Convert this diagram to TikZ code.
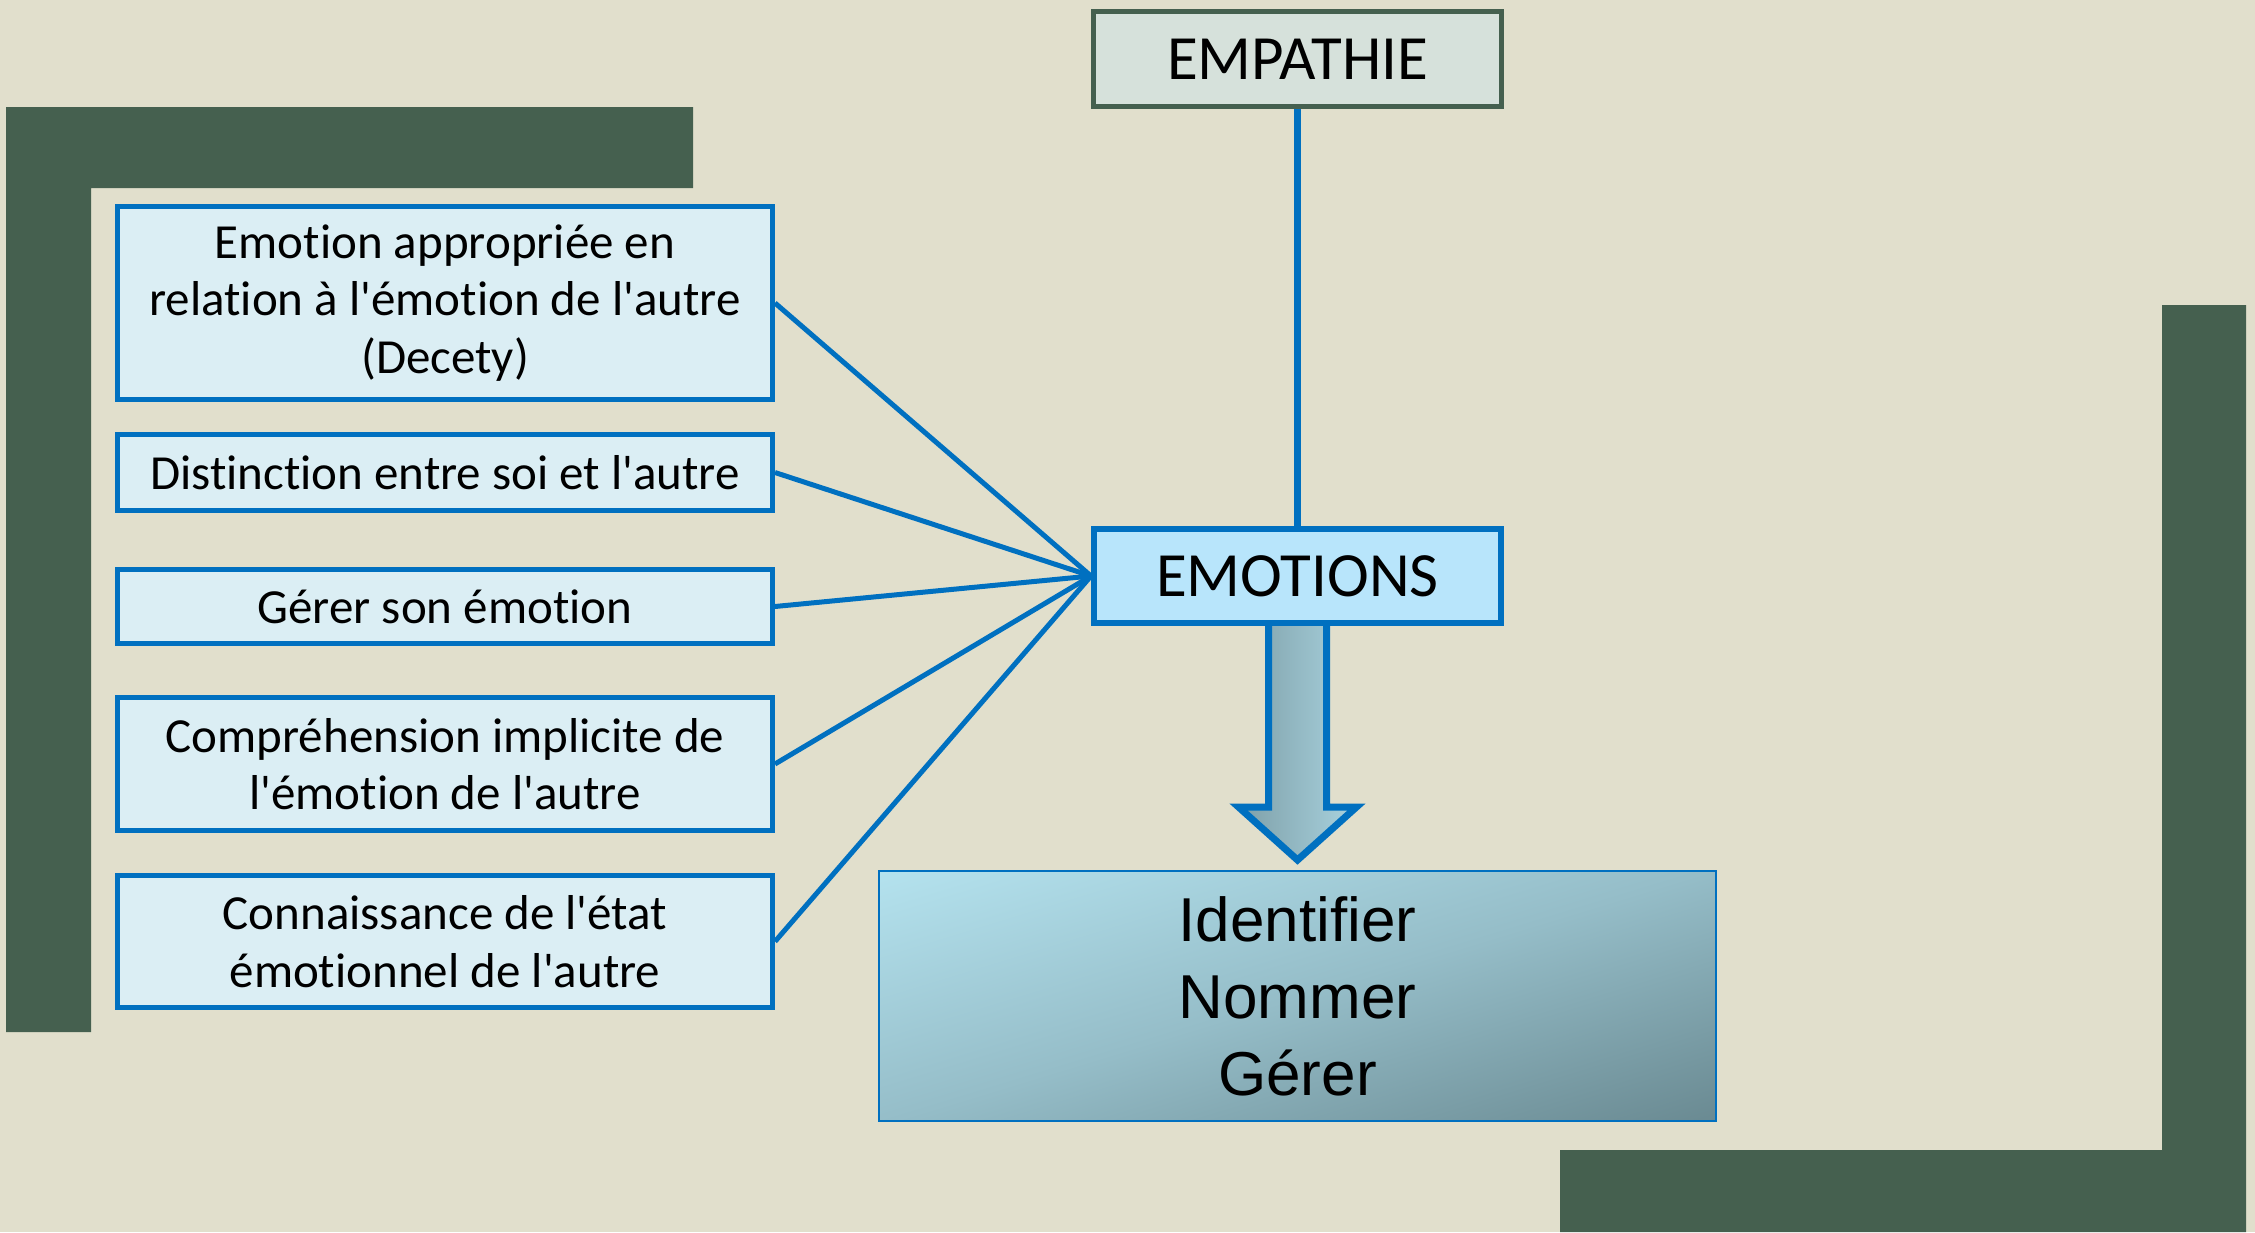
\documentclass[tikz,border=0pt]{standalone}
\usepackage{fontspec}
\setmainfont{Carlito}[Ligatures={TeXOff,CommonOff}]
\newfontfamily\arialf{Liberation Sans}[Ligatures={TeXOff,CommonOff}]
\usetikzlibrary{calc}
\definecolor{bgc}{HTML}{E1DFCC}
\definecolor{dgreen}{HTML}{45604F}
\definecolor{mblue}{HTML}{0070C0}
\definecolor{lbfill}{HTML}{DBEEF4}
\definecolor{empfill}{HTML}{D6E1DB}
\definecolor{emofill}{HTML}{B8E5FB}
\definecolor{gradA}{HTML}{B4E2EE}
\definecolor{gradM}{HTML}{95BDC8}
\definecolor{gradB}{HTML}{6A8A92}
\definecolor{arrL}{HTML}{7E9FA8}
\definecolor{arrR}{HTML}{A9D3DF}
\pgfdeclareverticalshading{diagsh}{100bp}{color(0bp)=(gradB); color(37.5bp)=(gradB); color(50bp)=(gradM); color(62.5bp)=(gradA); color(100bp)=(gradA)}
\begin{document}
\begin{tikzpicture}[x=0.5pt,y=-0.5pt,
  leftbox/.style={draw=mblue, line width=2.5pt, fill=lbfill, minimum width=327.5pt,
    align=center, inner sep=0pt, font=\fontsize{24.5pt}{28.75pt}\selectfont},
  topbox/.style={draw=dgreen, line width=2.5pt, fill=empfill, minimum width=204pt,
    minimum height=47.5pt, inner sep=0pt, font=\fontsize{31.5pt}{36pt}\selectfont},
  emobox/.style={draw=mblue, line width=3pt, fill=emofill, minimum width=203.5pt,
    minimum height=47pt, inner sep=0pt, font=\fontsize{31.5pt}{36pt}\selectfont},
  botbox/.style={draw=mblue, line width=1pt, minimum width=418.5pt, minimum height=125pt, inner sep=0pt,
    align=center, font=\arialf\fontsize{31pt}{38.5pt}\selectfont},
  conn/.style={draw=mblue, line width=2.5pt},
  vconn/.style={draw=mblue, line width=3.5pt},
  blockarrow/.style={draw=mblue, line width=3.5pt, left color=arrL, right color=arrR, line join=miter}]
\useasboundingbox (0,0) rectangle (2255,1232);
\fill[bgc] (0,0) rectangle (2255,1232);
% decorative corner frames
\fill[dgreen] (6,107) -- (693,107) -- (693,188) -- (91,188) -- (91,1032) -- (6,1032) -- cycle;
\fill[dgreen] (2162,305) -- (2246,305) -- (2246,1232) -- (1560,1232) -- (1560,1150) -- (2162,1150) -- cycle;
% diagonal gradient behind the result box
\begin{scope}
  \clip (879,871) rectangle (1716,1121);
  \shade[shading=diagsh, shading angle=17] (814.5,513) rectangle (1780.5,1479);
\end{scope}
% nodes
\node[leftbox, minimum height=96.5pt] (b1) at (445,303) {Emotion appropriée en\\relation à l'émotion de l'autre\\(Decety)};
\node[leftbox, minimum height=38pt] (b2) at (445,472.5) {Distinction entre soi et l'autre};
\node[leftbox, minimum height=37pt] (b3) at (445,606.5) {Gérer son émotion};
\node[leftbox, minimum height=66.5pt] (b4) at (445,764) {Compréhension implicite de\\l'émotion de l'autre};
\node[leftbox, minimum height=66pt] (b5) at (445,941.5) {Connaissance de l'état\\émotionnel de l'autre};
\node[topbox] (emp) at (1297.5,59) {EMPATHIE};
\node[botbox] (ident) at (1297.5,996) {Identifier\\Nommer\\Gérer};
% connectors
\draw[vconn] (emp.south) -- (1297.5,576);
\foreach \b in {b1,b2,b3,b4,b5} \draw[conn] (\b.east) -- (1091,576);
% block arrow
\draw[blockarrow] ($(1297.5,626)+(-29,-4)$) -- ++(0,185) -- ++(-30,0)
  -- ($(ident.north)+(0,-10)$) -- ($(1297.5,626)+(59,181)$) -- ++(-30,0) -- ++(0,-185) -- cycle;
\node[emobox] (emo) at (1297.5,576) {EMOTIONS};
\end{tikzpicture}
\end{document}
